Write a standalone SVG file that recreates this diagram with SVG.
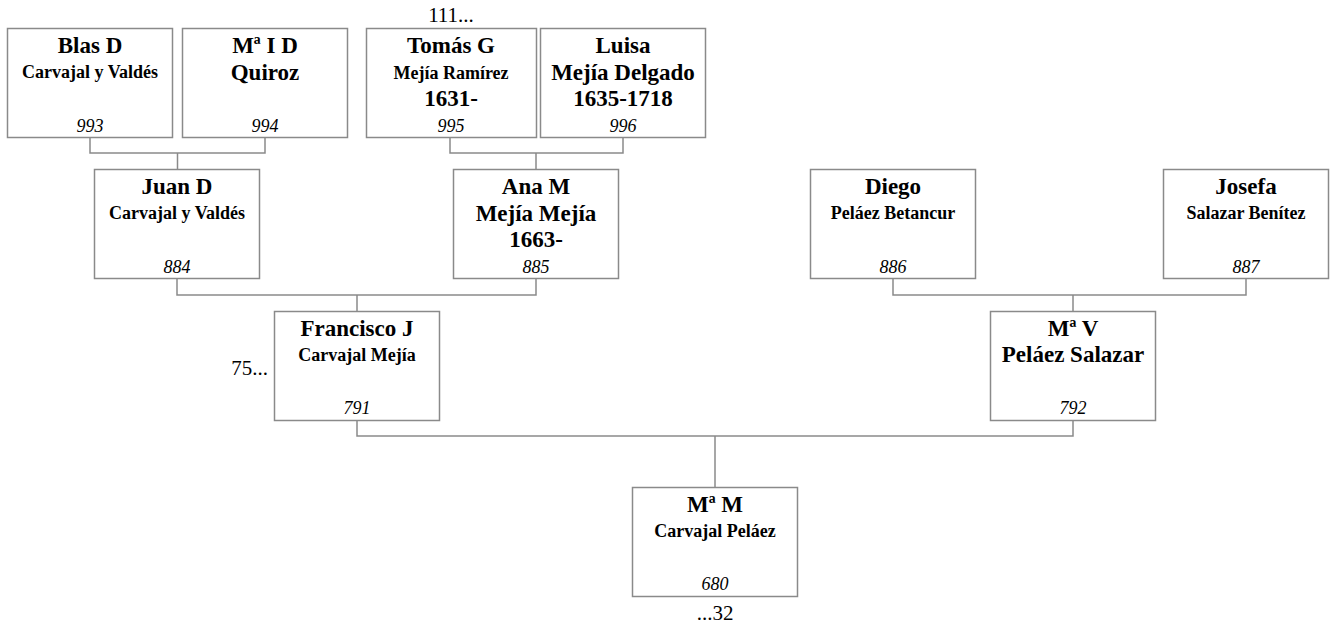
<svg xmlns="http://www.w3.org/2000/svg" width="1332" height="625" viewBox="0 0 1332 625">
<style>
.box{fill:#fff;stroke:#8a8a8a;stroke-width:1.5}
.ln{fill:none;stroke:#8a8a8a;stroke-width:1.5}
text{font-family:"Liberation Serif","Times New Roman",serif;fill:#000;text-anchor:middle}
.n{font-weight:bold;font-size:23px}
.s{font-weight:bold;font-size:18px}
.b{font-weight:bold;font-size:23px}
.id{font-style:italic;font-size:18px}
.x{font-size:21px}
</style>
<rect width="1332" height="625" fill="#fff"/>
<g id="connectors">
<path class="ln" d="M90,138V153H265V138M177.5,153V169"/>
<path class="ln" d="M450,138V153H623V138M536,153V169"/>
<path class="ln" d="M177,279V295H536V279M357,295V311"/>
<path class="ln" d="M893,279V295H1246V279M1073,295V311"/>
<path class="ln" d="M357,421V436H1073V421M715,436V487"/>
</g>
<g id="n993"><rect class="box" x="7.5" y="28.5" width="165" height="109"/><text class="n" x="90" y="53">Blas D</text><text class="s" x="90" y="78">Carvajal y Valdés</text><text class="id" x="90" y="132">993</text></g>
<g id="n994"><rect class="box" x="182.5" y="28.5" width="165" height="109"/><text class="n" x="265" y="53">Mª I D</text><text class="b" x="265" y="80">Quiroz</text><text class="id" x="265" y="132">994</text></g>
<g id="n995"><rect class="box" x="366.5" y="28.5" width="170" height="109"/><text class="n" x="451" y="53">Tomás G</text><text class="s" x="451" y="79">Mejía Ramírez</text><text class="b" x="451" y="106">1631-</text><text class="id" x="451" y="132">995</text></g>
<g id="n996"><rect class="box" x="540.5" y="28.5" width="165" height="109"/><text class="n" x="623" y="53">Luisa</text><text class="b" x="623" y="80">Mejía Delgado</text><text class="b" x="623" y="106">1635-1718</text><text class="id" x="623" y="132">996</text></g>
<g id="n884"><rect class="box" x="94.5" y="169.5" width="165" height="109"/><text class="n" x="177" y="194">Juan D</text><text class="s" x="177" y="219">Carvajal y Valdés</text><text class="id" x="177" y="273">884</text></g>
<g id="n885"><rect class="box" x="453.5" y="169.5" width="165" height="109"/><text class="n" x="536" y="194">Ana M</text><text class="b" x="536" y="221">Mejía Mejía</text><text class="b" x="536" y="247">1663-</text><text class="id" x="536" y="273">885</text></g>
<g id="n886"><rect class="box" x="810.5" y="169.5" width="165" height="109"/><text class="n" x="893" y="194">Diego</text><text class="s" x="893" y="219">Peláez Betancur</text><text class="id" x="893" y="273">886</text></g>
<g id="n887"><rect class="box" x="1163.5" y="169.5" width="165" height="109"/><text class="n" x="1246" y="194">Josefa</text><text class="s" x="1246" y="219">Salazar Benítez</text><text class="id" x="1246" y="273">887</text></g>
<g id="n791"><rect class="box" x="274.5" y="311.5" width="165" height="109"/><text class="n" x="357" y="336">Francisco J</text><text class="s" x="357" y="361">Carvajal Mejía</text><text class="id" x="357" y="414">791</text></g>
<g id="n792"><rect class="box" x="990.5" y="311.5" width="165" height="109"/><text class="n" x="1073" y="336">Mª V</text><text class="b" x="1073" y="362">Peláez Salazar</text><text class="id" x="1073" y="414">792</text></g>
<g id="n680"><rect class="box" x="632.5" y="487.5" width="165" height="109"/><text class="n" x="715" y="512">Mª M</text><text class="s" x="715" y="537">Carvajal Peláez</text><text class="id" x="715" y="590">680</text></g>
<text class="x" x="451" y="22">111...</text>
<text class="x" x="268" y="375" style="text-anchor:end">75...</text>
<text class="x" x="715" y="620">...32</text>
</svg>
